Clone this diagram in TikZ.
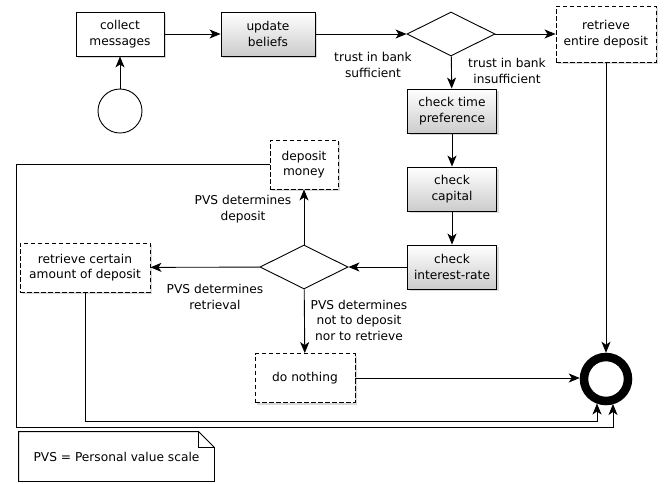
\documentclass[tikz,border=0pt]{standalone}
\usepackage{fontspec}
\setmainfont{DejaVu Sans}
\usetikzlibrary{shapes.geometric,arrows.meta,shadows}
\begin{document}
\begin{tikzpicture}[x=1pt,y=-1pt,
  font=\fontsize{12.2}{15.5}\selectfont,
  line width=0.9pt,
  arr/.style={-{Stealth[length=11pt,width=9pt,inset=3pt]}},
  shad/.style={drop shadow={opacity=0.3,shadow xshift=2pt,shadow yshift=-2pt}},
  plainbox/.style={draw,rectangle,fill=white,align=center,inner sep=2pt,shad},
  shadebox/.style={draw,rectangle,top color=white,bottom color=black!20,align=center,inner sep=2pt,shad},
  dashbox/.style={draw,rectangle,dashed,dash pattern=on 4.5pt off 2.5pt,fill=white,align=center,inner sep=2pt,shad},
  decision/.style={draw,diamond,fill=white,inner sep=0pt,minimum width=88pt,minimum height=44pt},
  lbl/.style={align=center,inner sep=0pt}
]
\useasboundingbox (0,0) rectangle (670,483);

% nodes
\node[draw,circle,minimum size=44pt,inner sep=0pt,fill=white] (start) at (120,111) {};
\node[plainbox,minimum width=88pt,minimum height=44pt] (collect) at (120,34) {collect\\messages};
\node[shadebox,minimum width=94pt,minimum height=44pt] (update) at (268,34) {update\\beliefs};
\node[decision] (d1) at (451,34) {};
\node[dashbox,minimum width=100pt,minimum height=56pt] (retall) at (606,34) {retrieve\\entire deposit};
\node[shadebox,minimum width=89pt,minimum height=44pt] (timepref) at (452,111) {check time\\preference};
\node[shadebox,minimum width=89pt,minimum height=44pt] (capital) at (452,189) {check\\capital};
\node[shadebox,minimum width=89pt,minimum height=44pt] (interest) at (452,267) {check\\interest-rate};
\node[decision] (d2) at (304,267) {};
\node[dashbox,minimum width=68pt,minimum height=49pt] (deposit) at (304,164.5) {deposit\\money};
\node[dashbox,minimum width=130pt,minimum height=49pt] (retsome) at (85,267.5) {retrieve certain\\amount of deposit};
\node[dashbox,minimum width=100pt,minimum height=49pt] (nothing) at (305,378) {do nothing};
\node[draw,circle,line width=8.5pt,minimum size=44pt,inner sep=0pt,fill=white,shad] (end) at (606,379) {};

% labels
\node[lbl] (l1) at (373,65) {trust in bank\\sufficient};
\node[lbl] (l2) at (507,71) {trust in bank\\insufficient};
\node[lbl] (l3) at (243,209) {PVS determines\\deposit};
\node[lbl] (l4) at (215,297) {PVS determines\\retrieval};
\node[lbl] (l5) at (359,320) {PVS determines\\not to deposit\\nor to retrieve};

% helper coordinates
\coordinate (c1) at (85,421);
\coordinate (c2) at (597,421);
\coordinate (e1) at (597,403.5);
\coordinate (c3) at (16,164.5);
\coordinate (c4) at (16,427);
\coordinate (c5) at (613,427);
\coordinate (e2) at (613,404);

% connectors
\draw[arr] (start) -- (collect);
\draw[arr] (collect) -- (update);
\draw[arr] (update) -- (d1);
\draw[arr] (d1) -- (retall);
\draw[arr] (d1) -- (timepref);
\draw[arr] (timepref) -- (capital);
\draw[arr] (capital) -- (interest);
\draw[arr] (interest) -- (d2);
\draw[arr] (d2) -- (deposit);
\draw[arr] (d2) -- (retsome);
\draw[arr] (d2) -- (nothing);
\draw[arr] (retall) -- (end);
\draw[arr] (nothing.east) -- (nothing.east -| end.west);
\draw[arr] (retsome.south) -- (c1) -- (c2) -- (e1);
\draw[arr] (deposit.west) -- (c3) -- (c4) -- (c5) -- (e2);

% note
\node[inner sep=0pt,minimum width=195pt,minimum height=49pt] (note) at (116.5,456.5) {};
\draw[fill=white] (note.north west) -- ([xshift=-16pt]note.north east) -- ([yshift=-16pt]note.north east) -- (note.south east) -- (note.south west) -- cycle;
\draw ([xshift=-16pt]note.north east) -- ([xshift=-16pt,yshift=-16pt]note.north east) -- ([yshift=-16pt]note.north east);
\node[inner sep=0pt] (notetext) at (note.center) {PVS = Personal value scale};
\end{tikzpicture}
\end{document}
